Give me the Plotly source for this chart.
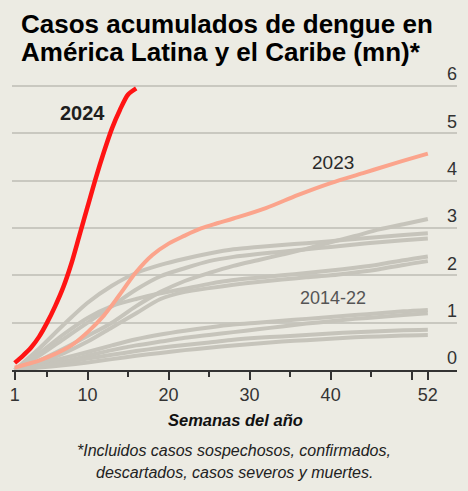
import plotly.graph_objects as go

# ---------------- data ----------------
weeks_2024 = list(range(1, 17))
cases_2024 = [0.15, 0.3, 0.47, 0.7, 1.0, 1.35, 1.75, 2.25, 2.85, 3.45, 4.05, 4.6, 5.1, 5.5, 5.82, 5.95]

weeks_2023 = [1, 2, 4, 6, 8, 10, 12, 14, 16, 18, 20, 22, 24, 26, 28, 32, 36, 40, 44, 48, 52]
cases_2023 = [0.05, 0.1, 0.2, 0.34, 0.52, 0.8, 1.15, 1.6, 2.07, 2.43, 2.67, 2.84, 2.99, 3.1, 3.2,
              3.42, 3.7, 3.95, 4.16, 4.37, 4.57]

weeks_past = [1, 4, 7, 10, 13, 16, 19, 22, 25, 28, 31, 34, 37, 40, 43, 46, 49, 52]
past_a = [0, 0.45, 0.95, 1.42, 1.78, 2.05, 2.22, 2.35, 2.46, 2.55, 2.6, 2.64, 2.68, 2.72, 2.77, 2.81, 2.85, 2.89]
past_b = [0, 0.3, 0.65, 1.0, 1.35, 1.7, 1.98, 2.15, 2.3, 2.39, 2.45, 2.5, 2.55, 2.6, 2.65, 2.7, 2.74, 2.78]
past_c = [0, 0.2, 0.45, 0.72, 1.0, 1.35, 1.65, 1.88, 2.05, 2.2, 2.32, 2.44, 2.56, 2.7, 2.83, 2.97, 3.08, 3.19]
past_d = [0, 0.35, 0.75, 1.1, 1.35, 1.5, 1.62, 1.72, 1.82, 1.9, 1.95, 2.0, 2.05, 2.1, 2.16, 2.23, 2.32, 2.4]
past_e = [0, 0.15, 0.35, 0.6, 0.9, 1.2, 1.5, 1.65, 1.73, 1.8, 1.86, 1.91, 1.96, 2.0, 2.06, 2.13, 2.22, 2.3]
past_f = [0, 0.12, 0.25, 0.38, 0.52, 0.65, 0.75, 0.83, 0.9, 0.96, 1.0, 1.04, 1.08, 1.12, 1.16, 1.2, 1.24, 1.27]
past_g = [0, 0.08, 0.18, 0.3, 0.42, 0.52, 0.6, 0.68, 0.74, 0.8, 0.86, 0.92, 0.98, 1.03, 1.08, 1.12, 1.16, 1.2]
past_h = [0, 0.07, 0.15, 0.24, 0.32, 0.4, 0.47, 0.53, 0.58, 0.64, 0.68, 0.71, 0.74, 0.77, 0.8, 0.82, 0.84, 0.85]
past_i = [0, 0.05, 0.1, 0.16, 0.23, 0.3, 0.36, 0.42, 0.47, 0.52, 0.56, 0.6, 0.63, 0.66, 0.69, 0.71, 0.73, 0.74]
past_series = [past_a, past_b, past_c, past_d, past_e, past_f, past_g, past_h, past_i]

x_major_ticks = [1, 10, 20, 30, 40, 50, 52]
x_major_text = ["1", "10", "20", "30", "40", "", "52"]
x_minor_ticks = [5, 15, 25, 35, 45]
y_ticks = [0, 1, 2, 3, 4, 5, 6]

title_line1 = "Casos acumulados de dengue en"
title_line2 = "América Latina y el Caribe (mn)*"
x_title = "Semanas del año"
note_line1 = "*Incluidos casos sospechosos, confirmados,"
note_line2 = "descartados, casos severos y muertes."

# ---------------- styles ----------------
BG = "#ecebe3"
GRAY = "#c6c4bb"
SALMON = "#fba48c"
RED = "#ff1414"
FONT = "Liberation Sans, Arial, sans-serif"

W, H = 468, 491
L, R, T, B = 12, 11, 62, 121
Y0_PX = H - B                      # pixel row of value 0
PX_PER_UNIT = (370 - 86) / 6.0     # 6 units between rows 370 and 86
Y_TOP = (Y0_PX - T) / PX_PER_UNIT

fig = go.Figure()
for s in past_series:
    fig.add_trace(go.Scatter(x=weeks_past, y=s, mode="lines", line=dict(color=GRAY, width=4, shape="spline", smoothing=0.8),
                             hoverinfo="skip", showlegend=False))
fig.add_trace(go.Scatter(x=weeks_2023, y=cases_2023, mode="lines",
                         line=dict(color=SALMON, width=4, shape="spline", smoothing=1.0), showlegend=False))
fig.add_trace(go.Scatter(x=weeks_2024, y=cases_2024, mode="lines",
                         line=dict(color=RED, width=4.5, shape="spline", smoothing=0.8), showlegend=False))

ann = []
ann.append(dict(x=9.43, y=5.43, xref="x", yref="y", text="<b>2024</b>", showarrow=False,
                font=dict(family=FONT, size=20, color="#1e1e1e")))
ann.append(dict(x=40.25, y=4.39, xref="x", yref="y", text="2023", showarrow=False,
                font=dict(family=FONT, size=19, color="#2a2a2a")))
ann.append(dict(x=40.3, y=1.53, xref="x", yref="y", text="2014-22", showarrow=False,
                font=dict(family=FONT, size=18, color="#555555")))

def px_to_paper_x(px):
    return (px - L) / (W - L - R)

def py_to_paper_y(py):
    return (H - B - py) / (H - T - B)

ann.append(dict(x=px_to_paper_x(19), y=py_to_paper_y(24), xref="paper", yref="paper", xanchor="left", yanchor="middle",
                text="<b>" + title_line1 + "</b>", showarrow=False,
                font=dict(family=FONT, size=26, color="#000000")))
ann.append(dict(x=px_to_paper_x(19), y=py_to_paper_y(52), xref="paper", yref="paper", xanchor="left", yanchor="middle",
                text="<b>" + title_line2 + "</b>", showarrow=False,
                font=dict(family=FONT, size=26, color="#000000")))
ann.append(dict(x=px_to_paper_x(235), y=py_to_paper_y(420), xref="paper", yref="paper", xanchor="center", yanchor="middle",
                text="<b><i>" + x_title + "</i></b>", showarrow=False,
                font=dict(family=FONT, size=16.5, color="#111111")))
ann.append(dict(x=px_to_paper_x(234), y=py_to_paper_y(450), xref="paper", yref="paper", xanchor="center", yanchor="middle",
                text="<i>" + note_line1 + "</i>", showarrow=False,
                font=dict(family=FONT, size=16, color="#222222")))
ann.append(dict(x=px_to_paper_x(234), y=py_to_paper_y(472), xref="paper", yref="paper", xanchor="center", yanchor="middle",
                text="<i>" + note_line2 + "</i>", showarrow=False,
                font=dict(family=FONT, size=16, color="#222222")))

fig.update_layout(
    width=W, height=H,
    margin=dict(l=L, r=R, t=T, b=B, autoexpand=False),
    paper_bgcolor=BG, plot_bgcolor=BG,
    showlegend=False,
    annotations=ann,
    font=dict(family=FONT, color="#333333"),
)
fig.update_xaxes(
    range=[0.667, 55.6], showgrid=False, zeroline=False,
    showline=True, linecolor="#333333", linewidth=1.5,
    tickmode="array", tickvals=x_major_ticks, ticktext=x_major_text,
    ticks="outside", ticklen=8, tickwidth=1.5, tickcolor="#333333",
    tickfont=dict(family=FONT, size=18, color="#333333"),
    minor=dict(tickmode="array", tickvals=x_minor_ticks, ticks="outside", ticklen=5, tickwidth=1.5, tickcolor="#333333", showgrid=False),
    fixedrange=True,
)
fig.update_yaxes(
    range=[0, Y_TOP], side="right", showline=False, zeroline=False,
    showgrid=True, gridcolor="#c9c8c0", gridwidth=1.5,
    tickmode="array", tickvals=y_ticks, ticks="",
    ticklabelposition="inside", ticklabelshift=-12, ticklabelstandoff=-3,
    tickfont=dict(family=FONT, size=18, color="#333333"),
    fixedrange=True,
)

fig.write_html("out.html", config={"displayModeBar": False},
               post_script="document.body.style.margin='0';document.body.style.background='" + BG + "';")
